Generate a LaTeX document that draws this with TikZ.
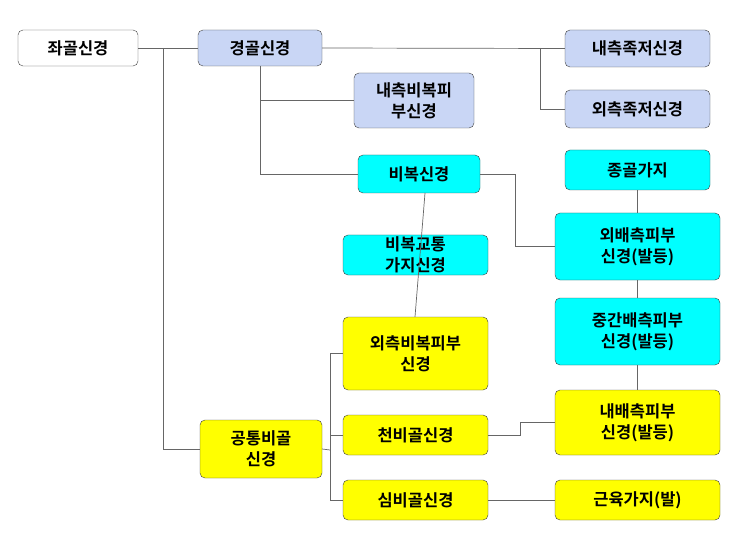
\documentclass[tikz,border=0pt]{standalone}
\usepackage{fontspec}
\newfontfamily\kr{Noto Sans CJK KR Bold}
\definecolor{cyn}{RGB}{0,255,255}
\definecolor{lv}{RGB}{201,214,245}
\definecolor{yl}{RGB}{255,255,0}
\begin{document}
\begin{tikzpicture}[x=1pt,y=-1pt,
 bx/.style={draw=black!75,rounded corners=5pt,align=center,font=\kr\fontsize{16.5}{21}\selectfont,inner sep=0pt},
 lav/.style={bx,fill=lv},
 cy/.style={bx,fill=cyn},
 ye/.style={bx,fill=yl},
 ln/.style={draw=black!60,line width=0.7pt}]
\useasboundingbox (0,0) rectangle (743,534);
\newcommand{\bnode}[6]{\node[#1,minimum width=#4-#3 pt,minimum height=#6-#5 pt] (#2) at ({(#3+#4)/2},{(#5+#6)/2})}
\bnode{bx}{a}{18}{138}{30}{66}{좌골신경};
\bnode{lav}{b}{198}{322}{30}{66}{경골신경};
\bnode{lav}{c}{565}{710}{30}{67}{내측족저신경};
\bnode{lav}{d}{565}{710}{90}{128}{외측족저신경};
\bnode{lav}{e}{354}{474}{73}{128}{내측비복피\\부신경};
\bnode{cy}{f}{358}{480}{155}{193}{비복신경};
\bnode{cy}{g}{565}{710}{150}{190}{종골가지};
\bnode{cy}{h}{555}{720}{213}{280}{외배측피부\\신경(발등)};
\bnode{cy}{i}{555}{720}{298}{365}{중간배측피부\\신경(발등)};
\bnode{ye}{m}{555}{720}{390}{455}{내배측피부\\신경(발등)};
\bnode{ye}{n}{200}{322}{420}{478}{공통비골\\신경};
\bnode{ye}{k}{343}{488}{317}{390}{외측비복피부\\신경};
\bnode{ye}{o}{343}{488}{415}{455}{천비골신경};
\bnode{ye}{p}{343}{488}{480}{520}{심비골신경};
\bnode{ye}{q}{555}{720}{480}{520}{근육가지(발)};
% connectors
\draw[ln] (a.east) -- (b.west);
\draw[ln] (163,48) |- (n.west);
\draw[ln] (b.east) -- (c.west);
\draw[ln] (540,48) |- (d.west);
\draw[ln] (260,66) |- (e.west);
\draw[ln] (260,100) |- (f.west);
\draw[ln] (f.east) -- (515,174) |- (h.west);
\draw[ln] (g.south) -- (h.north);
\draw[ln] (h.south) -- (i.north);
\draw[ln] (i.south) -- (m.north);
\draw[ln] (n.east) -- (330,450);
\draw[ln] (330,353) |- (k.west);
\draw[ln] (330,353) |- (p.west);
\draw[ln] (330,435) -- (o.west);
\draw[ln] (o.east) -- (520,435) |- (m.west);
\draw[ln] (p.east) -- (q.west);
\bnode{cy}{j}{343}{488}{235}{275}{비복교통\\가지신경};
\draw[ln] (425,193) -- (k.north -| 415,0);
\end{tikzpicture}
\end{document}
